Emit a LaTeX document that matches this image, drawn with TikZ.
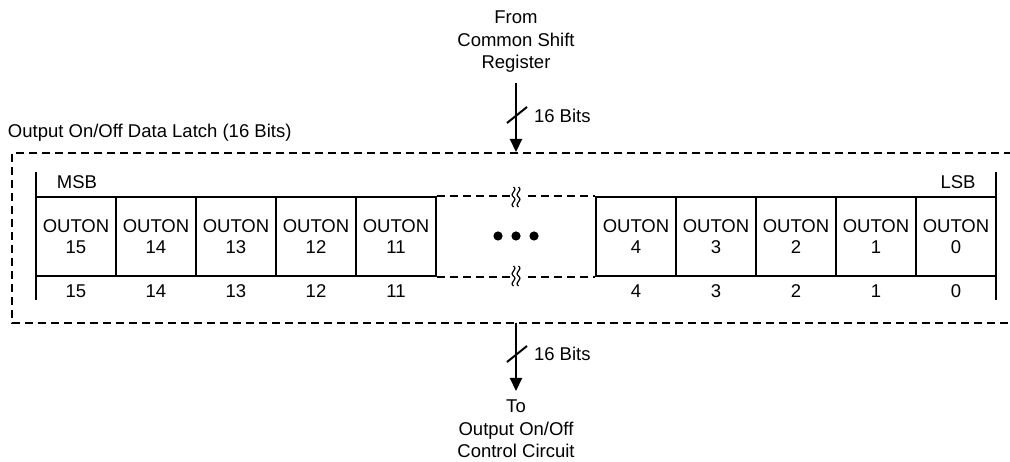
\documentclass[tikz,border=0pt]{standalone}
\usepackage{fontspec}
\setmainfont{Liberation Sans}
\usetikzlibrary{arrows.meta}
\begin{document}
\begin{tikzpicture}[x=1pt,y=-1pt,
  every node/.style={font=\fontsize{18.5}{22.5}\selectfont, text=black},
  cell/.style={draw, line width=2pt, minimum width=80pt, minimum height=79pt, inner sep=0pt, align=center},
  lbl/.style={inner sep=0pt},
  dsh/.style={line width=2.2pt, dash pattern=on 8pt off 5pt},
  bus/.style={line width=2.2pt, -{Triangle[length=13pt,width=12pt]}},
  wave/.style={line width=1.2pt},
  line width=2pt, draw=black]
\useasboundingbox (0,0) rectangle (1010,462);
% outer dashed latch box (right side outside the picture)
\draw[dsh] (1012,153) -- (12,153) -- (12,323) -- (1012,323);
\node[lbl, anchor=west] (title) at (7,133) {Output On/Off Data Latch (16 Bits)};
% cells
\foreach \n/\x in {15/76,14/156,13/236,12/316,11/396,4/636,3/716,2/796,1/876,0/956}{
  \node[cell] (c\n) at (\x,236.5) {OUTON\\[-1pt]\n};
  \node[lbl] (b\n) at (\x,291) {\n};
}
% MSB / LSB bars
\coordinate (msbt) at (36,172); \coordinate (msbb) at (36,300);
\coordinate (lsbt) at (996,172); \coordinate (lsbb) at (996,300);
\draw (msbt) -- (msbb);
\draw (lsbt) -- (lsbb);
\node[lbl] (msb) at (77,182) {MSB};
\node[lbl] (lsb) at (958,182) {LSB};
% dashed continuation
\draw[dsh] (c11.north east) -- (c4.north west);
\draw[dsh] (c11.south east) -- (c4.south west);
% break marks
\foreach \yy in {197,276}{
  \fill[white] (510,\yy-3) rectangle (523,\yy+3);
  \foreach \dx in {-2.5,2.5}{
    \draw[wave] (516+\dx,\yy-10) .. controls (516+\dx+5,\yy-6) and (516+\dx-5,\yy-4) .. (516+\dx,\yy) .. controls (516+\dx+5,\yy+4) and (516+\dx-5,\yy+6) .. (516+\dx,\yy+10);
  }
}
% dots
\foreach \x/\k in {498/a,516/b,534/c}{
  \fill[black] (\x,236) circle (4.6pt) coordinate (dot\k);
}
% input bus
\node[lbl, align=center] (src) at (516,42) {From\\Common Shift\\Register};
\coordinate (topin) at (516,152);
\draw[bus] (src.south |- 0,83) -- (topin);
\draw (507,123) -- (527,107);
\node[lbl, anchor=west] (bitsin) at (533,116) {16 Bits};
% output bus
\coordinate (botout) at (516,323);
\node[lbl, align=center] (dst) at (516,429) {To\\Output On/Off\\Control Circuit};
\draw[bus] (botout) -- (516,391);
\draw (507,362) -- (527,346);
\node[lbl, anchor=west] (bitsout) at (533,354) {16 Bits};
\end{tikzpicture}
\end{document}
